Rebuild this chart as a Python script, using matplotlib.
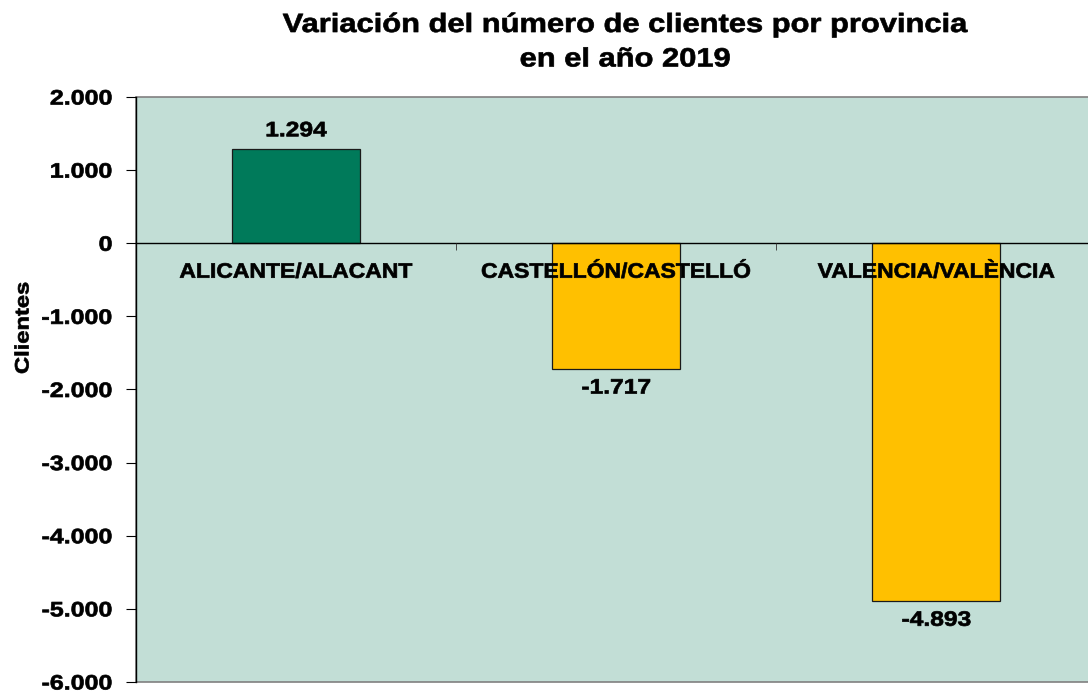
import matplotlib
matplotlib.use("Agg")
import matplotlib.pyplot as plt
from matplotlib.ticker import FuncFormatter, FixedLocator
from matplotlib.patheffects import AbstractPathEffect
from matplotlib.transforms import Affine2D

categories = ["ALICANTE/ALACANT", "CASTELLÓN/CASTELLÓ", "VALENCIA/VALÈNCIA"]
values = [1294, -1717, -4893]
yticks = [2000, 1000, 0, -1000, -2000, -3000, -4000, -5000, -6000]
title = "Variación del número de clientes por provincia\nen el año 2019"
ylabel = "Clientes"

plt.rcParams['font.family'] = ['Liberation Sans', 'DejaVu Sans']


class Stretch(AbstractPathEffect):
    """Widen (and slightly embolden) the rendered glyphs; the text stays real text."""
    def __init__(self, sx=1.0, sy=1.0, anchor="center", lw=0.5):
        super().__init__()
        self.sx, self.sy, self.anchor, self.lw = sx, sy, anchor, lw

    def draw_path(self, renderer, gc, tpath, affine, rgbFace=None):
        v = affine.transform(tpath.vertices)
        if len(v) == 0:
            return
        if self.anchor == "right":
            cx = v[:, 0].max()
        elif self.anchor == "left":
            cx = v[:, 0].min()
        else:
            cx = (v[:, 0].min() + v[:, 0].max()) / 2
        cy = (v[:, 1].min() + v[:, 1].max()) / 2
        t = affine + Affine2D().translate(-cx, -cy).scale(self.sx, self.sy).translate(cx, cy)
        gc0 = renderer.new_gc()
        gc0.copy_properties(gc)
        gc0.set_linewidth(self.lw)
        if rgbFace is not None:
            gc0.set_foreground(rgbFace)
        renderer.draw_path(gc0, tpath, t, rgbFace)
        gc0.restore()


def fmt(v):
    s = f"{abs(int(round(v))):,}".replace(",", ".")
    return ("-" if v < 0 else "") + s


fig = plt.figure(figsize=(10.88, 6.93), dpi=100)
ax = fig.add_axes([136/1088, 1-682/693, (1096.5-136)/1088, (682-97)/693])
ax.set_facecolor("#C2DED6")
ax.patch.set_edgecolor("#808080")
ax.patch.set_linewidth(1.2)
ax.set_axisbelow(False)

colors = ["#007A5A" if v >= 0 else "#FFC000" for v in values]
x = list(range(len(categories)))
bars = ax.bar(x, values, width=0.40, color=colors, edgecolor="#1a1a1a", linewidth=0.9, zorder=2)

ax.set_xlim(-0.5, len(categories) - 0.5)
ax.set_ylim(-6000, 2000)
ax.set_yticks(yticks)
ax.yaxis.set_major_formatter(FuncFormatter(lambda v, p: fmt(v)))

for s in ["top", "right"]:
    ax.spines[s].set_visible(False)
ax.spines["left"].set_color("black")
ax.spines["left"].set_linewidth(1.0)
ax.spines["bottom"].set_position(("data", 0))
ax.spines["bottom"].set_color("black")
ax.spines["bottom"].set_linewidth(1.0)

ax.set_xticks(x)
ax.set_xticklabels(categories, fontsize=15, fontweight="bold")
ax.xaxis.set_minor_locator(FixedLocator([0.5, 1.5]))
ax.tick_params(axis="x", which="major", length=0, pad=14)
ax.tick_params(axis="x", which="minor", length=5, direction="out", color="#333333")
ax.tick_params(axis="y", length=7, direction="out", labelsize=15, pad=10)
for lab in ax.get_xticklabels():
    lab.set_path_effects([Stretch(sx=1.1)])
for lab in ax.get_yticklabels():
    lab.set_fontweight("bold")
    lab.set_path_effects([Stretch(sx=1.2, anchor="right")])

for b, v in zip(bars, values):
    cx = b.get_x() + b.get_width() / 2
    if v >= 0:
        t = ax.annotate(fmt(v), (cx, v), xytext=(0, 6), textcoords="offset points",
                        ha="center", va="bottom", fontsize=15, fontweight="bold", zorder=4)
    else:
        t = ax.annotate(fmt(v), (cx, v), xytext=(0, -7), textcoords="offset points",
                        ha="center", va="top", fontsize=15, fontweight="bold", zorder=4)
    t.set_path_effects([Stretch(sx=1.18)])

yl = ax.set_ylabel(ylabel, fontsize=14, fontweight="bold", va="center")
ax.yaxis.set_label_coords((24 - 136) / 960.5, (682 - 328) / 585)
yl.set_path_effects([Stretch(sy=1.22)])

tt = fig.text(625/1088, 1-13/693, title, ha="center", va="top", fontsize=19,
              fontweight="bold", linespacing=1.55)
tt.set_path_effects([Stretch(sx=1.17)])

fig.savefig("out.png", dpi=100)
